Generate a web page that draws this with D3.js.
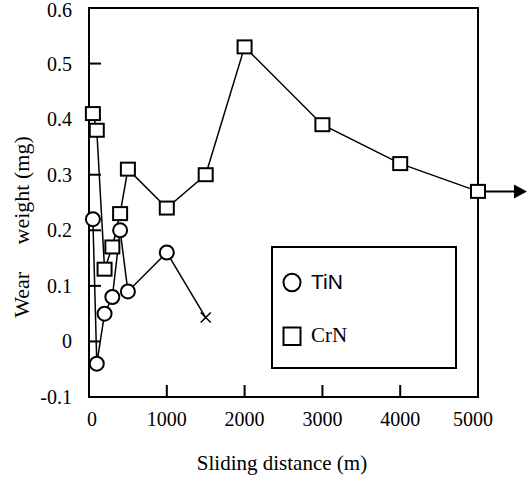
<!DOCTYPE html>
<html>
<head>
<meta charset="utf-8">
<script src="https://cdn.jsdelivr.net/npm/d3@7"></script>
<style>
  body { margin: 0; background: #fff; }
  svg { display: block; }
  .serif { font-family: "Liberation Serif", "Times New Roman", serif; }
  .sans { font-family: "Liberation Sans", Arial, sans-serif; }
</style>
</head>
<body>
<div id="chart"></div>
<script>
(function () {
    'use strict'

    // data
    var tinDistance = [50, 100, 200, 300, 400, 500, 1000]
    var tinWear = [0.22, -0.04, 0.05, 0.08, 0.20, 0.09, 0.16]
    var tinFailDistance = [1500]
    var tinFailWear = [0.043]
    var crnDistance = [50, 100, 200, 300, 400, 500, 1000, 1500, 2000, 3000, 4000, 5000]
    var crnWear = [0.41, 0.38, 0.13, 0.17, 0.23, 0.31, 0.24, 0.30, 0.53, 0.39, 0.32, 0.27]
    var xTicks = [0, 1000, 2000, 3000, 4000, 5000]
    var yTicks = [-0.1, 0, 0.1, 0.2, 0.3, 0.4, 0.5, 0.6]
    var yTickLabels = ['-0.1', '0', '0.1', '0.2', '0.3', '0.4', '0.5', '0.6']

    var width = 527, height = 477
    var margin = { top: 8, right: 49, bottom: 80, left: 89 }

    var svg = d3.select('#chart').append('svg')
        .attr('width', width)
        .attr('height', height)

    var x = d3.scaleLinear().domain([0, 5000]).range([margin.left, width - margin.right])
    var y = d3.scaleLinear().domain([-0.1, 0.6]).range([height - margin.bottom, margin.top])

    // frame
    svg.append('rect')
        .attr('x', x(0)).attr('y', y(0.6))
        .attr('width', x(5000) - x(0)).attr('height', y(-0.1) - y(0.6))
        .attr('fill', 'none').attr('stroke', '#000').attr('stroke-width', 2)

    // inward ticks
    svg.selectAll('.xtick').data(xTicks.slice(1, -1)).enter().append('line')
        .attr('x1', d => x(d)).attr('x2', d => x(d))
        .attr('y1', y(-0.1)).attr('y2', y(-0.1) - 12)
        .attr('stroke', '#000').attr('stroke-width', 2)
    svg.selectAll('.ytick').data(yTicks.slice(1, -1)).enter().append('line')
        .attr('x1', x(0)).attr('x2', x(0) + 12)
        .attr('y1', d => y(d)).attr('y2', d => y(d))
        .attr('stroke', '#000').attr('stroke-width', 2)

    svg.selectAll('.xlab').data(xTicks).enter().append('text')
        .attr('class', 'serif')
        .attr('x', d => x(d) + (d === 0 ? 3 : (d === 5000 ? -5 : 0)))
        .attr('y', y(-0.1) + 29)
        .attr('text-anchor', 'middle')
        .style('font-size', '20px')
        .text(d => d)
    svg.selectAll('.ylab').data(yTicks).enter().append('text')
        .attr('class', 'serif')
        .attr('x', 72)
        .attr('y', (d, i) => y(d) + 7 + (i === yTicks.length - 1 ? 2 : 0))
        .attr('text-anchor', 'end')
        .style('font-size', '20px')
        .text((d, i) => yTickLabels[i])

    svg.append('text')
        .attr('class', 'serif')
        .attr('x', 282).attr('y', 470)
        .attr('text-anchor', 'middle')
        .style('font-size', '21px')
        .text('Sliding distance (m)')
    svg.append('text')
        .attr('class', 'serif')
        .attr('transform', 'translate(29,227) rotate(-90)')
        .attr('text-anchor', 'middle')
        .style('font-size', '22px')
        .text('Wear\u00a0\u00a0\u00a0\u00a0\u00a0weight (mg)')

    var line = d3.line().x(d => x(d[0])).y(d => y(d[1]))
    var tin = d3.zip(tinDistance.concat(tinFailDistance), tinWear.concat(tinFailWear))
    var crn = d3.zip(crnDistance, crnWear)

    svg.append('path').datum(tin).attr('d', line)
        .attr('fill', 'none').attr('stroke', '#000').attr('stroke-width', 1.5)
    svg.append('path').datum(crn).attr('d', line)
        .attr('fill', 'none').attr('stroke', '#000').attr('stroke-width', 1.5)

    // arrow after last CrN point
    var last = crn[crn.length - 1]
    svg.append('line')
        .attr('x1', x(last[0])).attr('x2', x(last[0]) + 36)
        .attr('y1', y(last[1])).attr('y2', y(last[1]))
        .attr('stroke', '#000').attr('stroke-width', 2)
    svg.append('path')
        .attr('d', 'M' + (x(last[0]) + 36) + ',' + (y(last[1]) - 7) + 'l13,7l-13,7z')
        .attr('fill', '#000')

    svg.selectAll('.crn').data(crn).enter().append('rect')
        .attr('x', d => x(d[0]) - 7).attr('y', d => y(d[1]) - 6.5)
        .attr('width', 14).attr('height', 13)
        .attr('fill', '#fff').attr('stroke', '#000').attr('stroke-width', 2)

    svg.selectAll('.tin').data(tin.slice(0, -1)).enter().append('ellipse')
        .attr('cx', d => x(d[0])).attr('cy', d => y(d[1]))
        .attr('rx', 7).attr('ry', 7)
        .attr('fill', '#fff').attr('stroke', '#000').attr('stroke-width', 2)

    var f = tin[tin.length - 1]
    svg.append('path')
        .attr('d', 'M' + (x(f[0]) - 5) + ',' + (y(f[1]) - 5) + 'l10,10m0,-10l-10,10')
        .attr('stroke', '#000').attr('stroke-width', 1.5)

    // legend
    svg.append('rect')
        .attr('x', 272).attr('y', 247).attr('width', 184).attr('height', 121)
        .attr('fill', '#fff').attr('stroke', '#000').attr('stroke-width', 2)
    svg.append('ellipse')
        .attr('cx', 292).attr('cy', 282.5).attr('rx', 8.5).attr('ry', 8.8)
        .attr('fill', '#fff').attr('stroke', '#000').attr('stroke-width', 2)
    svg.append('text')
        .attr('class', 'sans')
        .attr('x', 311).attr('y', 288.5)
        .style('font-size', '21px')
        .text('TiN')
    svg.append('rect')
        .attr('x', 283.5).attr('y', 327.5).attr('width', 17).attr('height', 17.5)
        .attr('fill', '#fff').attr('stroke', '#000').attr('stroke-width', 2)
    svg.append('text')
        .attr('class', 'serif')
        .attr('x', 311).attr('y', 341.5)
        .style('font-size', '21px')
        .text('CrN')
})()
</script>
</body>
</html>
